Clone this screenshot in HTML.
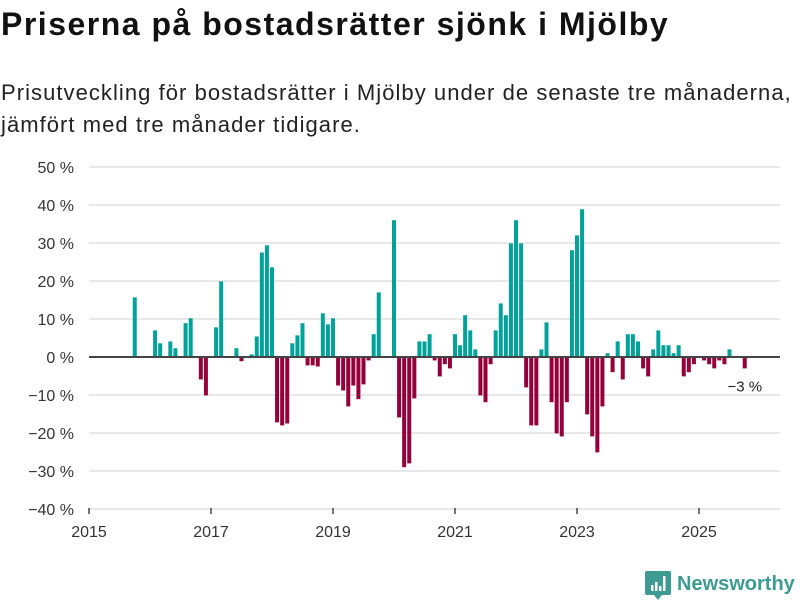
<!DOCTYPE html>
<html><head><meta charset="utf-8">
<style>
body{margin:0;background:#fff;width:800px;height:600px;overflow:hidden;font-family:"Liberation Sans",sans-serif;}
h1{position:absolute;left:1px;top:6px;margin:0;font-size:32px;font-weight:bold;color:#111;letter-spacing:1.5px;white-space:nowrap}
.sub{position:absolute;left:1px;top:77px;font-size:22px;line-height:32px;color:#222;letter-spacing:1.05px;white-space:nowrap}
svg{position:absolute;left:0;top:0}
</style></head><body>
<h1>Priserna på bostadsrätter sjönk i Mjölby</h1>
<div class="sub">Prisutveckling för bostadsrätter i Mjölby under de senaste tre månaderna,<br>jämfört med tre månader tidigare.</div>
<svg id="chart" width="800" height="600"></svg>
<script>
const startYear = 2015;
const startMonthIndex = 9; // October 2015
const values = [15.7,null,null,null,7.0,3.6,null,4.1,2.3,null,8.9,10.2,null,-5.9,-10.1,null,7.8,19.9,null,null,2.3,-1.1,null,0.7,5.4,27.5,29.4,23.6,-17.2,-18,-17.5,3.6,5.7,8.9,-2.2,-2.2,-2.5,11.5,8.6,10.2,-7.5,-8.8,-13,-7.5,-11.1,-7.2,-0.9,6.0,17.0,null,null,36.0,-15.9,-29,-28,-10.9,4.1,4.1,6.0,-0.9,-5.1,-1.9,-3.0,6.0,3.1,11.0,7.0,2.0,-10.1,-11.9,-1.9,7.0,14.1,11.0,29.9,36.0,29.9,-8.0,-18,-18,2.0,9.1,-11.9,-20.1,-20.9,-11.9,28.1,32.0,38.9,-15.1,-20.9,-25.1,-13,1.0,-4.0,4.1,-5.9,6.0,6.0,4.1,-3.0,-5.1,2.0,7.0,3.1,3.1,1.0,3.1,-5.1,-4.0,-1.9,null,-0.9,-1.9,-3.0,-0.9,-1.9,2.0,null,null,-3.0];
const yTicks = [50,40,30,20,10,0,-10,-20,-30,-40];
const xTickYears = [2015,2017,2019,2021,2023,2025];
const lastLabel = "−3 %";

const svg = document.getElementById('chart');
const NS = 'http://www.w3.org/2000/svg';
const y = v => 357 - v * 3.8;
const x = yr => 89 + (yr - 2015) * 61;
function mk(tag, attrs, parent){const e=document.createElementNS(NS,tag);for(const k in attrs)e.setAttribute(k,attrs[k]);(parent||svg).appendChild(e);return e;}

yTicks.forEach(t=>{
  const g = mk('line',{x1:89,x2:780,y1:y(t),y2:y(t),stroke:'#e0e0e0','stroke-width':1.5});
  
  
  const tx = mk('text',{x:74,y:y(t)+6,'text-anchor':'end','font-size':16,fill:'#333','font-family':'Liberation Sans, sans-serif'});
  tx.textContent = (t<0?'−'+(-t):t)+' %';
  
  
});
xTickYears.forEach(yr=>{
  const l = mk('line',{x1:x(yr),x2:x(yr),y1:508,y2:514,stroke:'#444','stroke-width':1.5});
  
  
  const tx = mk('text',{x:x(yr),y:537,'text-anchor':'middle','font-size':16,fill:'#333','font-family':'Liberation Sans, sans-serif'});
  tx.textContent = yr;
  
  
});
let lastX = 0, lastV = 0;
values.forEach((v,k)=>{
  if(v===null) return;
  const cx = x(startYear + (startMonthIndex + k)/12);
  const top = Math.min(y(v), y(0)), h = Math.abs(y(v)-y(0));
  const r = mk('rect',{x:cx-2,y:top,width:4,height:h,fill:v>=0?'#00a29a':'#93003a'});
  
  
  lastX = cx; lastV = v;
});
const zl = mk('line',{x1:89,x2:780,y1:y(0),y2:y(0),stroke:'#444','stroke-width':2});


const ll = mk('text',{x:lastX,y:y(lastV)+23,'text-anchor':'middle','font-size':15,fill:'#222','font-family':'Liberation Sans, sans-serif'});
ll.textContent = lastLabel;


</script>
<svg width="800" height="600" style="pointer-events:none">
  <path d="M647 571 h22 a2 2 0 0 1 2 2 v20 a2 2 0 0 1 -2 2 h-7 l-4 5 l-4 -5 h-7 a2 2 0 0 1 -2 -2 v-20 a2 2 0 0 1 2 -2z" fill="#3d9b92"/>
  <rect x="651" y="585" width="2.5" height="6" fill="#fff"/>
  <rect x="655" y="582" width="2.5" height="9" fill="#fff"/>
  <rect x="659" y="586" width="2.5" height="5" fill="#fff"/>
  <rect x="663" y="576" width="2.5" height="15" fill="#fff"/>
  <text x="677" y="590" font-size="20" font-weight="bold" fill="#3d9b92" font-family="Liberation Sans, sans-serif">Newsworthy</text>
</svg>
</body></html>
